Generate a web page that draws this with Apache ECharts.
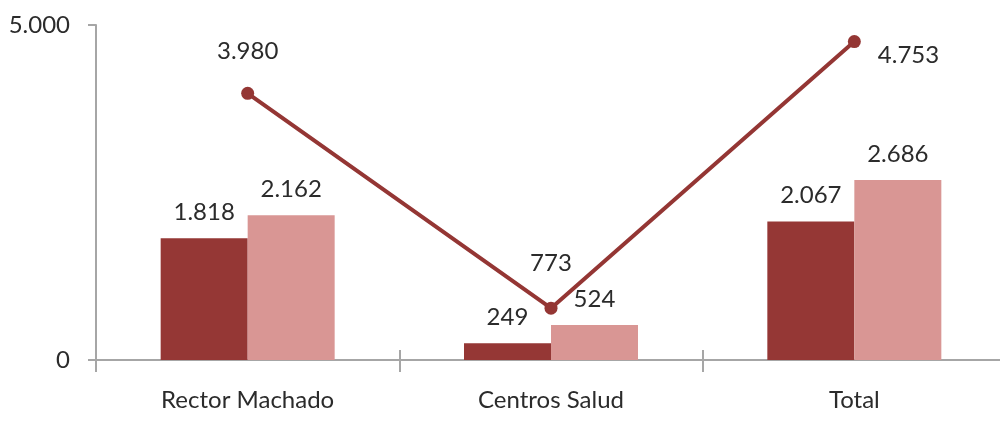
<!DOCTYPE html>
<html>
<head>
<meta charset="utf-8">
<script src="https://cdn.jsdelivr.net/npm/echarts@6/dist/echarts.min.js"></script>
<style>html,body{margin:0;padding:0;background:#fff}#c{width:1000px;height:438px}</style>
</head>
<body>
<div id="c"></div>
<script>
const categories = ['Rector Machado', 'Centros Salud', 'Total'];
const seriesA = [1818, 249, 2067];
const seriesB = [2162, 524, 2686];
const lineValues = [3980, 773, 4753];
const yTicks = [0, 5000];

function fmt(v) {
  return String(v).replace(/\B(?=(\d{3})+(?!\d))/g, '.');
}
const FONT = 'Lato';
const TXT = '#2b2b2b';
const FS = 24;
const chart = echarts.init(document.getElementById('c'));
const lineLabelCfg = [
  { position: 'top', distance: 24 },
  { position: 'top', distance: 26 },
  { position: 'right', distance: 17, offset: [0, 14] }
];
chart.setOption({
  animation: false,
  textStyle: { fontFamily: FONT },
  grid: { left: 96, width: 910, top: 25, height: 335, containLabel: false, outerBoundsMode: 'none' },
  xAxis: [{
    type: 'category',
    data: categories,
    axisLine: { lineStyle: { color: '#a6a6a6', width: 2 } },
    axisTick: { show: true, length: 12, lineStyle: { color: '#a6a6a6', width: 2 } },
    axisLabel: { color: TXT, fontSize: FS, fontFamily: FONT, margin: 28 },
    splitLine: { show: false }
  }, {
    type: 'category',
    data: categories,
    position: 'bottom',
    axisLine: { show: false },
    axisTick: { show: true, inside: true, length: 10, lineStyle: { color: '#a6a6a6', width: 2 } },
    axisLabel: { show: false }
  }],
  yAxis: {
    type: 'value',
    min: yTicks[0],
    max: yTicks[yTicks.length - 1],
    interval: yTicks[1] - yTicks[0],
    axisLine: { show: true, lineStyle: { color: '#a6a6a6', width: 2 } },
    axisTick: { show: true, length: 8, lineStyle: { color: '#a6a6a6', width: 2 } },
    axisLabel: { color: TXT, fontSize: FS, fontFamily: FONT, margin: 26, formatter: fmt },
    splitLine: { show: false }
  },
  series: [{
    type: 'bar',
    data: seriesA,
    barWidth: 87,
    barGap: '0%',
    itemStyle: { color: '#953735' },
    label: { show: true, position: 'top', distance: 14, color: TXT, fontSize: FS, fontFamily: FONT, formatter: p => fmt(p.value) }
  }, {
    type: 'bar',
    data: seriesB,
    barWidth: 87,
    barGap: '0%',
    itemStyle: { color: '#D99694' },
    label: { show: true, position: 'top', distance: 14, color: TXT, fontSize: FS, fontFamily: FONT, formatter: p => fmt(p.value) }
  }, {
    type: 'line',
    data: lineValues.map((v, i) => ({ value: v, label: lineLabelCfg[i] })),
    symbol: 'circle',
    symbolSize: 13,
    lineStyle: { color: '#943634', width: 4 },
    itemStyle: { color: '#943634' },
    label: { show: true, color: TXT, fontSize: FS, fontFamily: FONT, formatter: p => fmt(p.value) },
    z: 5
  }]
});
</script>
</body>
</html>
